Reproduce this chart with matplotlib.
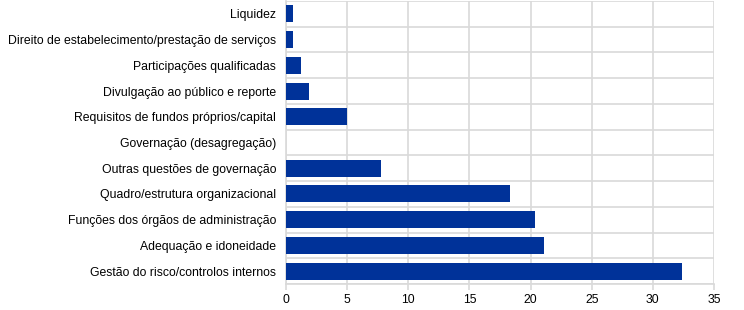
import matplotlib.pyplot as plt
import numpy as np

plt.rcParams['font.family'] = ['Liberation Sans', 'DejaVu Sans']

categories = [
    'Liquidez',
    'Direito de estabelecimento/prestação de serviços',
    'Participações qualificadas',
    'Divulgação ao público e reporte',
    'Requisitos de fundos próprios/capital',
    'Governação (desagregação)',
    'Outras questões de governação',
    'Quadro/estrutura organizacional',
    'Funções dos órgãos de administração',
    'Adequação e idoneidade',
    'Gestão do risco/controlos internos',
]
values = [0.6, 0.6, 1.2, 1.9, 5.0, 0, 7.75, 18.3, 20.4, 21.1, 32.4]
xticks = [0, 5, 10, 15, 20, 25, 30, 35]

fig = plt.figure(figsize=(7.44, 3.10), dpi=100)
ax = fig.add_axes([286 / 744, 26 / 310, 428 / 744, 283 / 310])

y = np.arange(len(categories))
ax.barh(y, values, height=0.66, color='#003299', linewidth=0, zorder=3)

ax.set_ylim(len(categories) - 0.5, -0.5)
ax.set_xlim(0, 35)
ax.set_xticks(xticks)
ax.set_yticks(y)
ax.set_yticklabels(categories)
ax.set_yticks(np.arange(-0.5, len(categories), 1), minor=True)

ax.grid(axis='x', color='#d9d9d9', linewidth=1.2, zorder=0)
ax.grid(axis='y', which='minor', color='#d9d9d9', linewidth=1.2, zorder=0)
ax.tick_params(axis='y', which='both', length=0, labelsize=8.8, pad=7)
ax.tick_params(axis='x', length=4, color='#d9d9d9', width=1.2, labelsize=8.8, pad=3)

for s in ['top', 'right']:
    ax.spines[s].set_visible(False)
for s in ['left', 'bottom']:
    ax.spines[s].set_color('#d9d9d9')
    ax.spines[s].set_linewidth(1.2)

fig.savefig('out.png', dpi=100)
